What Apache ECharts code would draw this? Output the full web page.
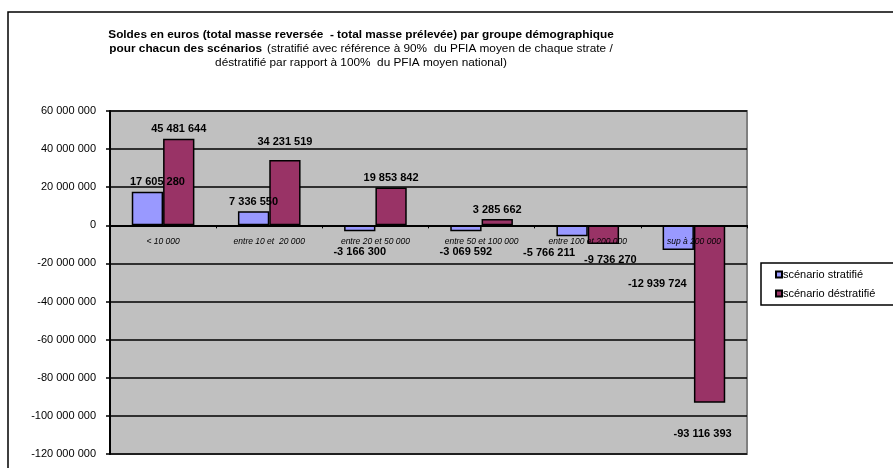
<!DOCTYPE html>
<html>
<head>
    <meta charset="utf-8">
    <title>Soldes par groupe démographique</title>
    <script src="https://cdn.jsdelivr.net/npm/echarts@6/dist/echarts.min.js"></script>
    <style>
        html, body { margin: 0; padding: 0; background: #fff; }
        #main { width: 893px; height: 468px; }
    </style>
</head>
<body>
<div id="main"></div>
<script type="text/javascript">
    // données
    var groupes = ['< 10 000', 'entre 10 et  20 000', 'entre 20 et 50 000', 'entre 50 et 100 000', 'entre 100 et 200 000', 'sup à 200 000'];
    var stratifie = [17605280, 7336550, -3166300, -3069592, -5766211, -12939724];
    var destratifie = [45481644, 34231519, 19853842, 3285662, -9736270, -93116393];
    var yMin = -120000000, yMax = 60000000, yStep = 20000000;

    // petits décalages des étiquettes, comme dans le graphique Excel d'origine
    var decalStratifie = [[10, 0], [0, 0], [0, 11], [0, 11], [-23, 7], [-21, 24]];
    var decalDestratifie = [[0, 0], [0, -9], [0, 0], [0, 0], [7, 7], [-7, 22]];

    var font = 'Liberation Sans, Arial, sans-serif';

    function espaces(v) {
        return String(v).replace(/\B(?=(\d{3})+(?!\d))/g, ' ');
    }

    // libellés en dessous pour les valeurs négatives
    function points(arr, decal) {
        return arr.map(function (v, i) {
            return {value: v, label: {position: v < 0 ? 'bottom' : 'top', offset: decal[i]}};
        });
    }

    var myChart = echarts.init(document.getElementById('main'));

    var etiquette = {
        show: true,
        distance: 4,
        fontFamily: font,
        fontWeight: 'bold',
        fontSize: 11,
        color: '#000',
        formatter: function (p) { return espaces(p.value); }
    };

    var gridTop = 111, gridH = 343;

    var option = {
        animation: false,
        textStyle: {fontFamily: font},
        title: {
            left: 356,
            top: 23,
            textAlign: 'center',
            text: '{b|Soldes en euros (total masse reversée  - total masse prélevée) par groupe démographique}\n' +
                  '{b|pour chacun des scénarios} {n|(stratifié avec référence à 90%  du PFIA moyen de chaque strate /}\n' +
                  '{n|déstratifié par rapport à 100%  du PFIA moyen national)}',
            textStyle: {
                fontFamily: font,
                lineHeight: 14,
                rich: {
                    b: {fontFamily: font, fontWeight: 'bold', fontSize: 11.8, lineHeight: 14, color: '#000'},
                    n: {fontFamily: font, fontWeight: 'normal', fontSize: 11.8, lineHeight: 14, color: '#000'}
                }
            }
        },
        legend: {
            orient: 'vertical',
            left: 761,
            top: 263,
            padding: [6, 40, 6, 14],
            itemGap: 8,
            itemWidth: 6,
            itemHeight: 6,
            icon: 'rect',
            borderColor: '#000',
            borderWidth: 1.5,
            textStyle: {fontFamily: font, fontSize: 11, color: '#000', padding: [0, 0, 0, -4]},
            data: ['scénario stratifié', 'scénario déstratifié']
        },
        graphic: [{
            type: 'rect',
            shape: {x: 8, y: 12, width: 900, height: 470},
            style: {fill: 'none', stroke: '#000', lineWidth: 1.5},
            silent: true
        }],
        grid: {
            left: 110,
            top: gridTop,
            width: 637,
            height: gridH,
            show: true,
            backgroundColor: '#C0C0C0',
            borderColor: '#808080',
            borderWidth: 2
        },
        xAxis: {
            type: 'category',
            data: groupes,
            z: 5,
            // axe placé sur le zéro
            offset: -gridH * (0 - yMin) / (yMax - yMin),
            axisLine: {onZero: false, lineStyle: {color: '#000', width: 2}},
            axisTick: {show: true, length: 3, lineStyle: {color: '#000'}},
            axisLabel: {
                interval: 0,
                margin: 12,
                fontFamily: font,
                fontSize: 8.5,
                fontStyle: 'italic',
                color: '#000'
            }
        },
        yAxis: {
            type: 'value',
            min: yMin,
            max: yMax,
            interval: yStep,
            axisLine: {show: true, lineStyle: {color: '#000', width: 2}},
            axisTick: {show: true, length: 4, lineStyle: {color: '#000', width: 1.5}},
            axisLabel: {
                margin: 14,
                fontFamily: font,
                fontSize: 11,
                color: '#000',
                formatter: function (v) { return espaces(v); }
            },
            splitLine: {lineStyle: {color: '#000', width: 1.5}}
        },
        series: [
            {
                name: 'scénario stratifié',
                type: 'bar',
                barGap: 0,
                barCategoryGap: '41%',
                itemStyle: {color: '#9999FF', borderColor: '#000', borderWidth: 1.5},
                label: etiquette,
                data: points(stratifie, decalStratifie)
            },
            {
                name: 'scénario déstratifié',
                type: 'bar',
                itemStyle: {color: '#993366', borderColor: '#000', borderWidth: 1.5},
                label: etiquette,
                data: points(destratifie, decalDestratifie)
            }
        ]
    };
    myChart.setOption(option);
</script>
</body>
</html>
